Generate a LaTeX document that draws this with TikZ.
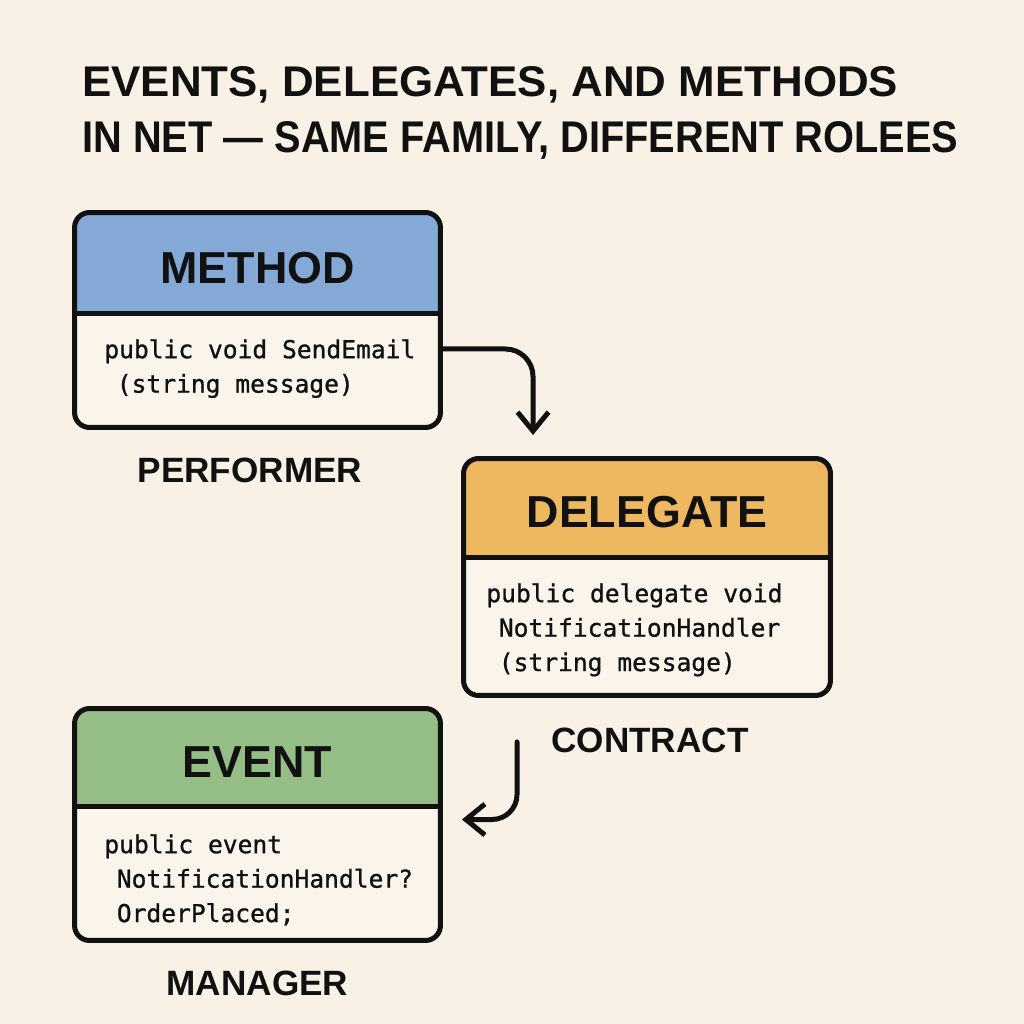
\documentclass[tikz,border=0pt]{standalone}
\usepackage{graphicx}
\usepackage{fontspec}
\setmainfont{Liberation Sans}
\newfontfamily\codefont[FakeBold=1]{DejaVu Sans Mono}
\usetikzlibrary{arrows.meta, positioning}
\definecolor{bgcream}{RGB}{249,241,229}
\definecolor{bodycream}{RGB}{251,244,234}
\definecolor{inkblack}{RGB}{17,17,17}
\definecolor{hdrblue}{RGB}{133,169,214}
\definecolor{hdrorange}{RGB}{237,184,96}
\definecolor{hdrgreen}{RGB}{149,189,134}
\tikzset{
  card/.style 2 args={rectangle, draw=inkblack, fill=bodycream,
    line width=0.1cm, rounded corners=0.3cm,
    path picture={
      \fill[#1, sharp corners] (path picture bounding box.north west)
        rectangle ([yshift=-#2]path picture bounding box.north east);
      \draw[inkblack, line width=0.1cm, sharp corners]
        ([yshift=-#2]path picture bounding box.north west)
        -- ([yshift=-#2]path picture bounding box.north east);
    }},
  titletext/.style={font=\bfseries, text=inkblack, inner sep=0pt},
  hdrlabel/.style={font=\fontsize{25.5}{30}\selectfont\bfseries, text=inkblack, inner sep=0pt},
  rolelabel/.style={font=\fontsize{20}{24}\selectfont\bfseries, text=inkblack, inner sep=0pt},
  code/.style={font=\codefont\fontsize{14}{19.6}\selectfont, text=inkblack,
    align=left, anchor=north west, inner sep=0pt},
  flow/.style={-{Straight Barb[length=0.38cm, width=0.62cm]}, line width=0.1cm,
    inkblack, line cap=round}
}
\begin{document}
\begin{tikzpicture}[x=0.02cm, y=-0.02cm]
  % canvas
  \useasboundingbox (0,0) rectangle (1024,1024);
  \fill[bgcream] (0,0) rectangle (1024,1024);

  % Title
  \node[titletext, anchor=base west] (title1) at (82,97)
    {\resizebox{16.32cm}{0.6cm}{EVENTS, DELEGATES, AND METHODS}};
  \node[titletext, anchor=base west] (title2) at (82,152)
    {\resizebox{17.52cm}{0.62cm}{IN NET — SAME FAMILY, DIFFERENT ROLEES}};

  % Method
  \node[card={hdrblue}{2.01cm}, minimum width=7.32cm, minimum height=4.3cm] (method) at (257.5,320) {};
  \node[hdrlabel] (methodtitle) at ([yshift=-1.16cm]method.north) {METHOD};
  \node[code] (methodcode) at (104,339) {public void SendEmail\\\hspace{0.25cm}(string message)};
  \node[rolelabel, below=0.56cm of method, xshift=-0.15cm] (performer) {PERFORMER};

  % Delegate
  \node[card={hdrorange}{1.97cm}, minimum width=7.34cm, minimum height=4.74cm] (delegate) at (647,577) {};
  \node[hdrlabel] (delegatetitle) at ([yshift=-1.12cm]delegate.north) {DELEGATE};
  \node[code] (delegatecode) at (486,583) {public delegate void\\\hspace{0.25cm}NotificationHandler\\\hspace{0.25cm}(string message)};
  \node[rolelabel, below=0.6cm of delegate, xshift=0.06cm] (contract) {CONTRACT};

  % Event
  \node[card={hdrgreen}{1.95cm}, minimum width=7.32cm, minimum height=4.64cm] (event) at (257.5,824.5) {};
  \node[hdrlabel] (eventtitle) at ([yshift=-1.12cm]event.north) {EVENT};
  \node[code] (eventcode) at (104,834) {public event\\\hspace{0.25cm}NotificationHandler?\\\hspace{0.25cm}OrderPlaced;};
  \node[rolelabel, below=0.56cm of event] (manager) {MANAGER};

  % Connectors
  \draw[flow, rounded corners=0.55cm] ([yshift=-0.58cm]method.east)
    -| ([xshift=-2.28cm, yshift=0.42cm]delegate.north);
  \draw[flow, rounded corners=0.5cm] ([xshift=-2.6cm, yshift=-0.88cm]delegate.south)
    |- ([xshift=0.38cm, yshift=0.1cm]event.east);
\end{tikzpicture}
\end{document}
